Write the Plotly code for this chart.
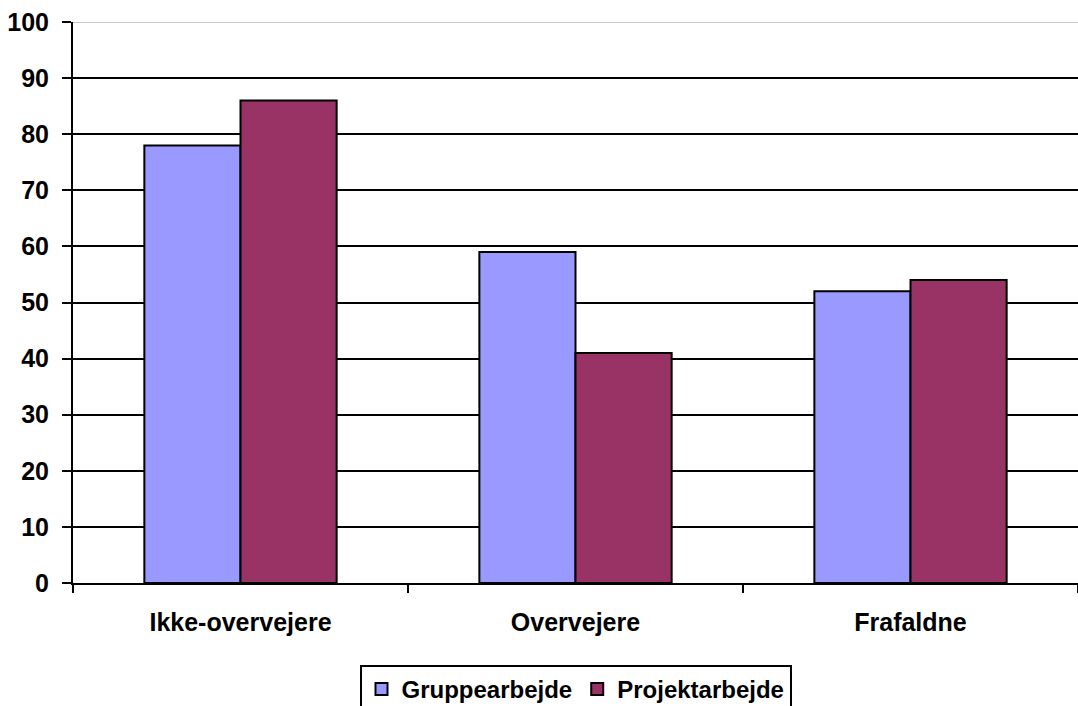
import plotly.graph_objects as go

categories = ["Ikke-overvejere", "Overvejere", "Frafaldne"]
gruppearbejde = [78, 59, 52]
projektarbejde = [86, 41, 54]
y_ticks = list(range(0, 101, 10))

FAMILY = "Liberation Sans, Arial, sans-serif"
bold = dict(family=FAMILY, size=25, color="black", weight="bold")
bold_legend = dict(family=FAMILY, size=24, color="black", weight="bold")

fig = go.Figure()
fig.add_trace(go.Bar(
    name="Gruppearbejde", x=categories, y=gruppearbejde,
    marker=dict(color="#9999FF", line=dict(color="black", width=2)),
))
fig.add_trace(go.Bar(
    name="Projektarbejde", x=categories, y=projektarbejde,
    marker=dict(color="#993366", line=dict(color="black", width=2)),
))

# top boundary line of the value area is lighter than the other gridlines
fig.add_shape(
    type="line", xref="paper", yref="y", x0=0, x1=1, y0=100, y1=100,
    line=dict(color="#c8c8c8", width=2), layer="below",
)

fig.update_layout(
    width=1078, height=706,
    margin=dict(l=73, r=0, t=22, b=123, autoexpand=False),
    paper_bgcolor="white", plot_bgcolor="white",
    barmode="group", bargap=0.426, bargroupgap=0,
    font=bold,
    showlegend=True,
    legend=dict(
        orientation="h", x=0.5, xanchor="center", y=-0.146, yanchor="top",
        bordercolor="black", borderwidth=2, bgcolor="white",
        font=bold_legend, itemwidth=30, tracegroupgap=0,
    ),
)
fig.update_xaxes(
    showline=True, linecolor="black", linewidth=2,
    ticks="outside", tickson="boundaries", ticklen=8, tickwidth=2, tickcolor="black",
    tickfont=bold, ticklabelstandoff=16,
)
fig.update_yaxes(
    range=[0, 100], tickvals=y_ticks,
    showline=True, linecolor="black", linewidth=2,
    ticks="outside", ticklen=9, tickwidth=2, tickcolor="black",
    showgrid=True, gridcolor="black", gridwidth=2,
    zeroline=False, tickfont=bold, ticklabelstandoff=8,
)

fig.write_html("out.html")
